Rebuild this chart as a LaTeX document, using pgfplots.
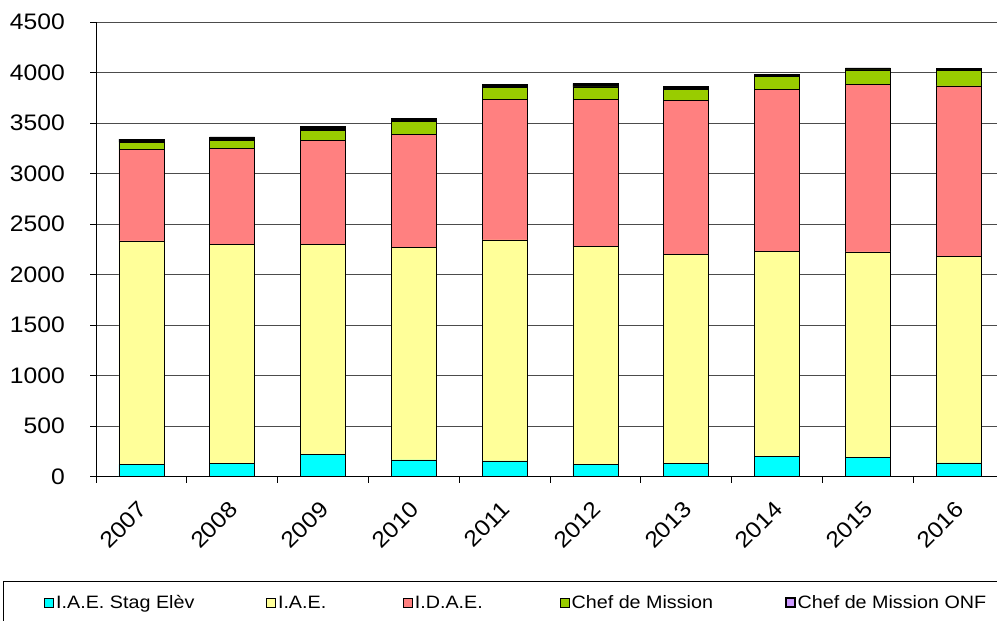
\documentclass[border=0pt]{standalone}
\usepackage{pgfplots}
\pgfplotsset{compat=1.18}
\usepackage{fontspec}
\setmainfont{Liberation Sans}[FakeStretch=1.1]
\definecolor{cStag}{HTML}{00FFFF}
\definecolor{cIAE}{HTML}{FFFF99}
\definecolor{cIDAE}{HTML}{FF8080}
\definecolor{cChef}{HTML}{99CC00}
\definecolor{cONF}{HTML}{CC99FF}
\begin{document}
\begin{tikzpicture}[x=1bp,y=1bp]
\useasboundingbox (0,0) rectangle (997,-621);
\begin{axis}[
  at={(96bp,-476.7bp)}, anchor=south west,
  scale only axis, width=908bp, height=454.7bp,
  xmin=-0.5, xmax=9.5, ymin=0, ymax=4500,
  ybar stacked, bar width=45bp,
  axis x line*=bottom, axis y line*=left,
  axis line style={-, black, line width=0.9bp},
  ytick={0,500,...,4500},
  ymajorgrids, grid style={black!70, line width=0.9bp},
  xtick={0,...,9},
  xticklabels={2007,2008,2009,2010,2011,2012,2013,2014,2015,2016},
  minor xtick={-0.5,0.5,...,9.5},
  major x tick style={draw=none},
  tick align=outside,
  major tick length=6bp, minor tick length=6bp,
  tick style={black, line width=0.9bp},
  /pgf/number format/assume math mode=true,
  /pgf/number format/1000 sep={},
  tick label style={font=\fontsize{22.5}{26}\selectfont},
  yticklabel style={anchor=east, inner sep=0pt, xshift=-25bp},
  xticklabel style={rotate=45, anchor=east, inner sep=0pt, xshift=-15bp, yshift=-17bp},
  legend columns=5,
  legend style={at={(axis description cs:-0.1019,-0.2294)}, anchor=north west,
    draw=black, line width=0.9bp, inner xsep=40.5bp, inner ysep=14bp,
    font=\fontsize{18}{21}\selectfont,
    nodes={inner sep=0pt},
    /tikz/every odd column/.style={column sep=0bp},
    /tikz/every even column/.style={column sep=0bp}},
  legend image code/.code={\draw[#1] (0bp,-4.5bp) rectangle (9bp,4.5bp);},
  every axis plot/.append style={draw=black, line width=0.8bp},
]
\addplot[fill=cStag] coordinates {(0,123) (1,133) (2,219) (3,166) (4,156) (5,123) (6,129) (7,199) (8,193) (9,136)};
\addplot[fill=cIAE] coordinates {(0,2210) (1,2163) (2,2081) (3,2100) (4,2187) (5,2153) (6,2068) (7,2032) (8,2031) (9,2041)};
\addplot[fill=cIDAE] coordinates {(0,905) (1,952) (2,1030) (3,1124) (4,1389) (5,1459) (6,1525) (7,1600) (8,1657) (9,1690)};
\addplot[fill=cChef] coordinates {(0,72) (1,82) (2,99) (3,123) (4,122) (5,122) (6,112) (7,129) (8,145) (9,153)};
\addplot[fill=black, legend image code/.code={\draw[fill=cONF, draw=black, line width=2bp] (0bp,-4.5bp) rectangle (9bp,4.5bp);}]
  coordinates {(0,32) (1,32) (2,35) (3,32) (4,31) (5,35) (6,32) (7,25) (8,19) (9,18)};
\addlegendentry{\makebox[212bp][l]{\hspace{2bp}I.A.E. Stag Elèv}}
\addlegendentry{\makebox[127bp][l]{\hspace{2bp}I.A.E.}}
\addlegendentry{\makebox[147bp][l]{\hspace{2bp}I.D.A.E.}}
\addlegendentry{\makebox[215bp][l]{\hspace{2bp}Chef de Mission}}
\addlegendentry{\makebox[260bp][l]{\hspace{2bp}Chef de Mission ONF}}
\end{axis}
\end{tikzpicture}
\end{document}
